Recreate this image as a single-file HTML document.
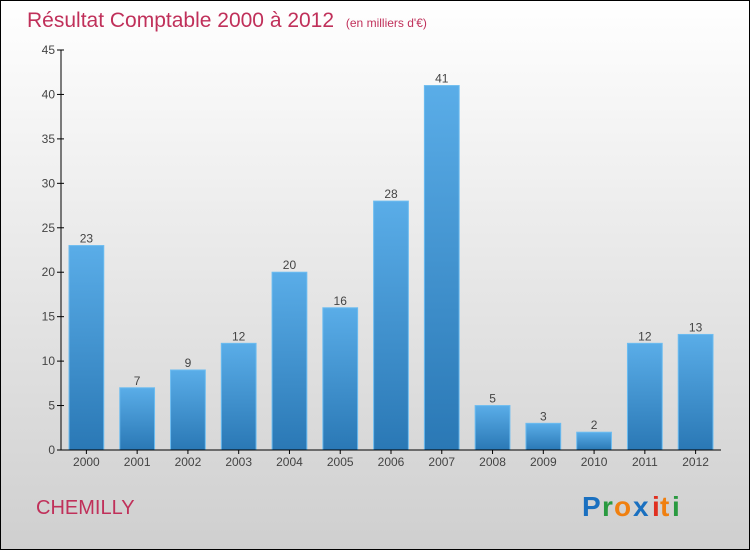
<!DOCTYPE html>
<html><head><meta charset="utf-8"><style>
body{margin:0;width:750px;height:550px;overflow:hidden}
svg{display:block}
text{font-family:"Liberation Sans",sans-serif}
</style></head><body>
<svg id="c" width="750" height="550">
<defs>
<linearGradient id="bg" x1="0" y1="0" x2="0" y2="1"><stop offset="0" stop-color="#ffffff"/><stop offset="1" stop-color="#cfcfcf"/></linearGradient>
<linearGradient id="bar" x1="0" y1="0" x2="0" y2="1"><stop offset="0" stop-color="#5aade8"/><stop offset="1" stop-color="#2a78b5"/></linearGradient>
</defs>
<rect x="0.5" y="0.5" width="749" height="549" fill="url(#bg)" stroke="#000"/>
<text x="27" y="27" font-size="21" fill="#c0305a">Résultat Comptable 2000 à 2012 <tspan font-size="12" dx="6">(en milliers d'€)</tspan></text>
<text x="36" y="514" font-size="20" fill="#c0305a">CHEMILLY</text>
<g font-size="28" font-weight="bold">
<text x="582" y="516" fill="#1a70c0">P</text><text x="602" y="516" fill="#2a9a40">r</text><text x="614" y="516" fill="#f08010">o</text><text x="633" y="516" fill="#1a70c0">x</text><text x="652" y="516" fill="#e03020">i</text><text x="660" y="516" fill="#f08010">t</text><text x="672" y="516" fill="#2a9a40">i</text>
</g>
<g id="plot"></g>
</svg>
<script>
const categories=["2000","2001","2002","2003","2004","2005","2006","2007","2008","2009","2010","2011","2012"];
const values=[23,7,9,12,20,16,28,41,5,3,2,12,13];
const yTicks=[0,5,10,15,20,25,30,35,40,45];
const ns="http://www.w3.org/2000/svg";
const g=document.getElementById('plot');
const x0=61,x1=721,yB=450,yT=50,yMax=45;
const slot=(x1-x0)/categories.length;
const y=v=>yB-(v/yMax)*(yB-yT);
function mk(t,a,p){const e=document.createElementNS(ns,t);for(const k in a)e.setAttribute(k,a[k]);(p||g).appendChild(e);return e;}
yTicks.forEach(t=>{
 const l=mk('line',{x1:x0-4,x2:x0+3,y1:y(t),y2:y(t),stroke:'#000'});
 
 
 const tx=mk('text',{x:x0-6,y:y(t)+4,'font-size':12,fill:'#444','text-anchor':'end'});
 tx.textContent=t;
 
 
});
categories.forEach((c,i)=>{
 const bx=x0+i*slot+8,bw=slot-16;
 const r=mk('rect',{x:bx,y:y(values[i]),width:bw,height:yB-y(values[i]),fill:'url(#bar)',stroke:'#6cbcf0','stroke-width':1});
 
 
 const v=mk('text',{x:bx+bw/2,y:y(values[i])-3,'font-size':12,fill:'#444','text-anchor':'middle'});
 v.textContent=values[i];
 
 
 const tk=mk('line',{x1:x0+(i+0.5)*slot,x2:x0+(i+0.5)*slot,y1:yB,y2:yB+4,stroke:'#000'});
 
 
 const lb=mk('text',{x:x0+(i+0.5)*slot,y:yB+16,'font-size':12,fill:'#444','text-anchor':'middle'});
 lb.textContent=c;
 
 
});
const ya=mk('line',{x1:x0,x2:x0,y1:yT,y2:yB,stroke:'#000'});


const xa=mk('line',{x1:x0,x2:x1,y1:yB,y2:yB,stroke:'#000'});


</script>
</body></html>
